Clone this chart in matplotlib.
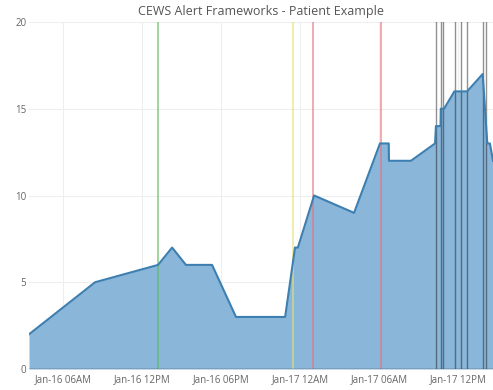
import datetime as dt
import matplotlib
matplotlib.use("Agg")
import matplotlib.pyplot as plt
import matplotlib.dates as mdates

plt.rcParams['font.family'] = ['Open Sans', 'DejaVu Sans']

# CEWS score over time
times = ["2017-01-16 03:25", "2017-01-16 08:26", "2017-01-16 13:13", "2017-01-16 14:17",
         "2017-01-16 15:20", "2017-01-16 17:19", "2017-01-16 19:08", "2017-01-16 22:52",
         "2017-01-16 23:37", "2017-01-16 23:50", "2017-01-17 01:04", "2017-01-17 04:06",
         "2017-01-17 06:04", "2017-01-17 06:44", "2017-01-17 06:45", "2017-01-17 08:25",
         "2017-01-17 10:15", "2017-01-17 10:19", "2017-01-17 10:40", "2017-01-17 10:41",
         "2017-01-17 10:56", "2017-01-17 11:43", "2017-01-17 12:41", "2017-01-17 13:52",
         "2017-01-17 14:13", "2017-01-17 14:25", "2017-01-17 14:39"]
cews = [2, 5, 6, 7, 6, 6, 3, 3, 7, 7, 10, 9, 13, 13, 12, 12, 13, 14, 14, 15, 15, 16, 16, 17, 13, 13, 12]

# alert markers
alerts = [("2017-01-16 13:13", "#5cb85c"),
          ("2017-01-16 23:30", "#e8e070"),
          ("2017-01-17 00:59", "#e8707a"),
          ("2017-01-17 06:09", "#e8707a")]
escalations = ["2017-01-17 10:19", "2017-01-17 10:40", "2017-01-17 10:52", "2017-01-17 11:46",
               "2017-01-17 12:12", "2017-01-17 12:39", "2017-01-17 13:53", "2017-01-17 14:07"]

fmt = "%Y-%m-%d %H:%M"
x = [dt.datetime.strptime(t, fmt) for t in times]

fig = plt.figure(figsize=(4.93, 3.9), dpi=100)
ax = fig.add_axes([29 / 493, 21 / 390, 1 - 29 / 493, 347 / 390])

ax.fill_between(x, cews, 0, color="#8ab6da", lw=0, zorder=2)
ax.plot(x, cews, color="#3d7fb0", lw=1.5, zorder=4)

for t, c in alerts:
    ax.axvline(dt.datetime.strptime(t, fmt), color=c, lw=1.1, alpha=0.75, zorder=3)
for t in escalations:
    ax.axvline(dt.datetime.strptime(t, fmt), color="#222222", lw=1.0, alpha=0.5, zorder=3)

ax.set_xlim(x[0], x[-1])
ax.set_ylim(0, 20)
ax.set_yticks([0, 5, 10, 15, 20])
ax.xaxis.set_major_locator(mdates.HourLocator(byhour=[0, 6, 12, 18]))
ax.xaxis.set_major_formatter(mdates.DateFormatter("%b-%d %I%p"))

ax.grid(True, color="#eeeeee", lw=0.8, zorder=0)
for s in ax.spines.values():
    s.set_visible(False)
ax.axhline(0, color="#444444", lw=1, zorder=5)
ax.tick_params(length=0, labelsize=7, colors="#666666", pad=4)
ax.tick_params(axis="y", pad=2)

ax.set_title("CEWS Alert Frameworks - Patient Example", fontsize=9, color="#555555", pad=5)
ax.set_ylabel("CEWS", fontsize=7.5, color="#555555", labelpad=9)
ax.set_xlabel("Date & Time", fontsize=7.5, color="#555555", labelpad=3)

fig.savefig("out.png", dpi=100)
